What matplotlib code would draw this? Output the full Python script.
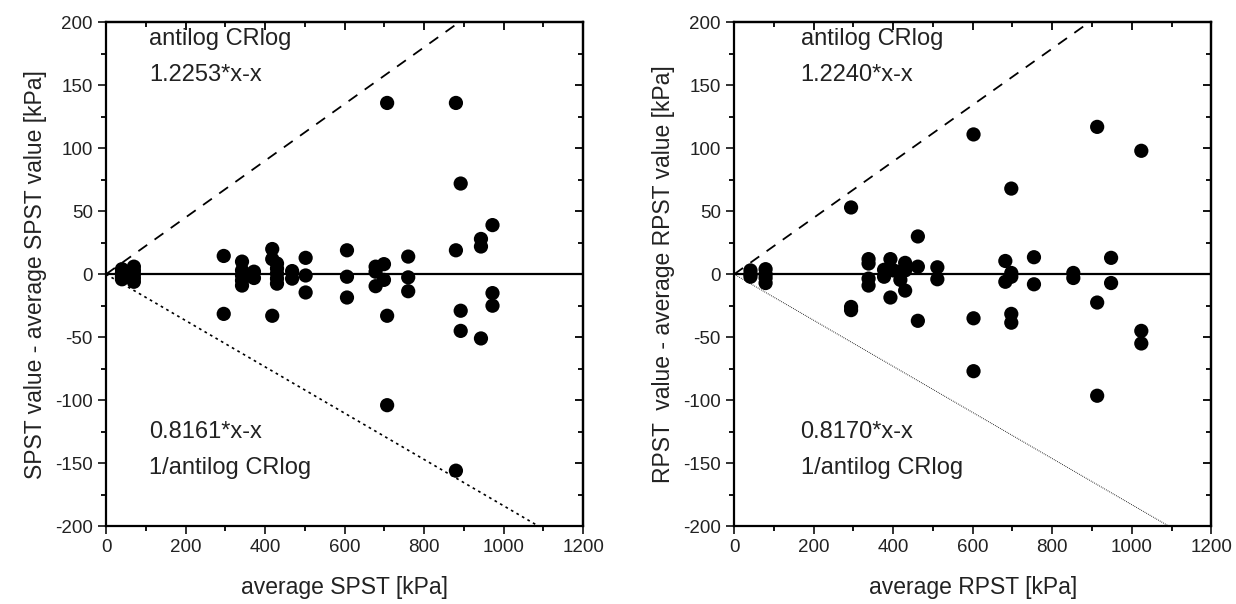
import numpy as np
import matplotlib
matplotlib.use('Agg')
import matplotlib.pyplot as plt
from matplotlib.ticker import MultipleLocator

plt.rcParams['font.family'] = ['Liberation Sans', 'DejaVu Sans']
plt.rcParams['axes.unicode_minus'] = False

# ---------------- data ----------------
spst_avg = [40, 40, 40, 40, 70, 70, 70, 70, 70, 296, 296,
            342, 342, 342, 342, 342, 372, 372, 418, 418, 418,
            430, 430, 430, 430, 430, 468, 468, 502, 502, 502,
            606, 606, 606, 678, 678, 678, 699, 699, 707, 707, 707,
            760, 760, 760, 880, 880, 880, 892, 892, 892,
            943, 943, 943, 972, 972, 972]
spst_diff = [4, 1, -2, -4, 6, 3, 0, -3, -6, 14.5, -31.5,
             10, 3, -1, -5, -9, 2, -3, 20, 12, -33,
             8.5, 4.5, 0.5, -3.5, -7.5, 2.5, -3.5, 13, -1, -14.5,
             19, -2, -18.5, 6, 2, -9.5, 8, -4.5, 136, -33, -104,
             14, -2.5, -13.5, 136, 19, -156, 72, -29, -45,
             28, 22, -51, 39, -15, -25]

rpst_avg = [41, 41, 41, 79, 79, 79, 79, 294, 294, 294,
            338, 338, 338, 338, 377, 377, 393, 393, 401, 418, 418,
            430, 430, 430, 462, 462, 462, 511, 511,
            602, 602, 602, 682, 682, 697, 697, 697, 697, 697,
            754, 754, 853, 853, 913, 913, 913, 948, 948,
            1024, 1024, 1024]
rpst_diff = [3, 0, -2, 4, 0, -3, -7, 53, -26, -28.5,
             12, 8.5, -3.5, -9, 3.5, -2, 12, -18.5, 3, 2, -4.5,
             9, 3, -13, 30, 6, -37, 5.5, -4,
             111, -35, -77, 10.5, -6, 68, 1, -2, -31.5, -38.5,
             13.5, -8, 1, -3, 117, -22.5, -96.5, 13, -7,
             98, -45, -55]

spst_up, spst_lo = 1.2253, 0.8161
rpst_up, rpst_lo = 1.2240, 0.8170

fig = plt.figure(figsize=(12.36, 6.04), dpi=100)
ax1 = fig.add_axes([0.0858, 0.129, 0.386, 0.834])
ax2 = fig.add_axes([0.594, 0.129, 0.386, 0.834])

panels = [
    (ax1, spst_avg, spst_diff, spst_up, spst_lo, 'SPST', (1.6, 2.2), 1.2, 108),
    (ax2, rpst_avg, rpst_diff, rpst_up, rpst_lo, 'RPST ', (0.8, 1.2), 0.7, 167),
]

xx = np.array([0, 1200])
for ax, xv, yv, up, lo, name, dots, dlw, tx in panels:
    ax.axhline(0, color='black', lw=1.6, zorder=1)
    ax.plot(xx, up * xx - xx, color='black', lw=1.3, dashes=(6, 5), zorder=1)
    ax.plot(xx, lo * xx - xx, color='black', lw=dlw, dashes=dots, zorder=1)
    ax.scatter(xv, yv, s=105, color='black', edgecolors='none', zorder=3)

    ax.set_xlim(0, 1200)
    ax.set_ylim(-200, 200)
    ax.xaxis.set_major_locator(MultipleLocator(200))
    ax.xaxis.set_minor_locator(MultipleLocator(100))
    ax.yaxis.set_major_locator(MultipleLocator(50))
    ax.yaxis.set_minor_locator(MultipleLocator(25))
    ax.tick_params(which='major', direction='out', length=6, width=1.3,
                   labelsize=13.5, colors='#222222')
    ax.tick_params(which='minor', direction='out', length=3.5, width=1.3)
    for s in ax.spines.values():
        s.set_linewidth(1.6)

    # mirrored inward ticks on top and right
    sec = ax.secondary_xaxis('top')
    sec.xaxis.set_major_locator(MultipleLocator(200))
    sec.xaxis.set_minor_locator(MultipleLocator(100))
    sec.tick_params(which='major', direction='in', length=6, width=1.3, labeltop=False)
    sec.tick_params(which='minor', direction='in', length=3.5, width=1.3)
    sec.spines['top'].set_linewidth(1.6)
    sey = ax.secondary_yaxis('right')
    sey.yaxis.set_major_locator(MultipleLocator(50))
    sey.yaxis.set_minor_locator(MultipleLocator(25))
    sey.tick_params(which='major', direction='in', length=6, width=1.3, labelright=False)
    sey.tick_params(which='minor', direction='in', length=3.5, width=1.3)
    sey.spines['right'].set_linewidth(1.6)

    ax.set_xlabel('average %s [kPa]' % name.strip(), fontsize=16.5, labelpad=14,
                  color='#222222')
    ax.set_ylabel('%s value - average %s value [kPa]' % (name, name.strip()),
                  fontsize=16.5, labelpad=6, color='#222222')

    txt = dict(fontsize=17, va='center', color='#222222')
    ax.text(tx, 186.5, 'antilog CRlog', **txt)
    ax.text(tx, 158, '%.4f*x-x' % up, **txt)
    ax.text(tx, -125, '%.4f*x-x' % lo, **txt)
    ax.text(tx, -153.5, '1/antilog CRlog', **txt)

plt.savefig('out.png', dpi=100)
